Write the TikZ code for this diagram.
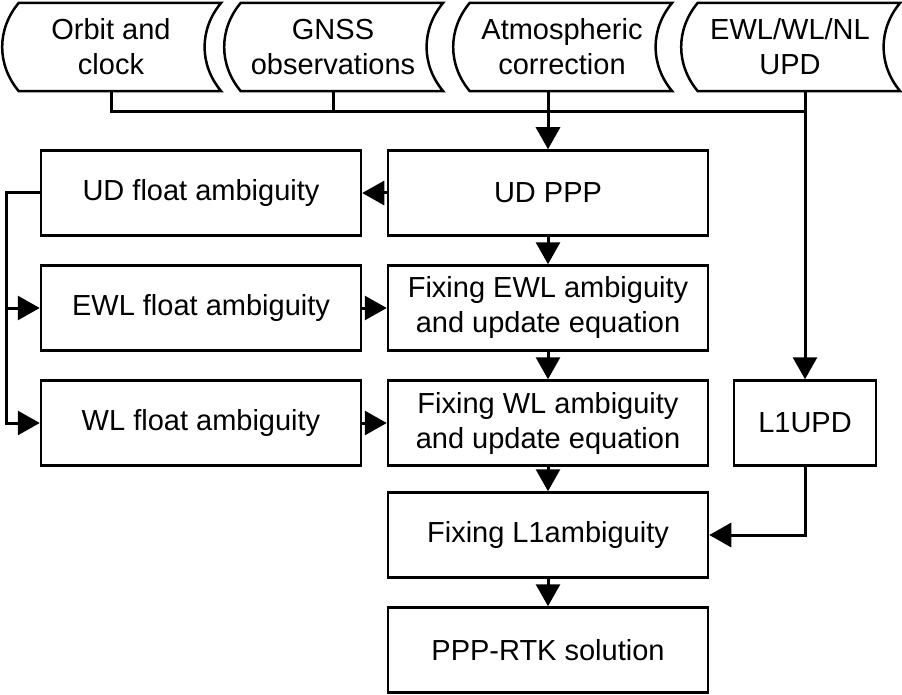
\documentclass[tikz,border=0pt]{standalone}
\usepackage{fontspec}
\setmainfont{Liberation Sans}
\usetikzlibrary{arrows.meta}

\begin{document}
\begin{tikzpicture}[x=1pt,y=-1pt,
    font=\fontsize{29}{35}\selectfont,
    box/.style={draw,line width=2.5pt,minimum width=320pt,minimum height=85pt,align=center,inner sep=0pt},
    src/.style={minimum width=202pt,minimum height=88pt,align=center,inner sep=0pt},
    line/.style={line width=3pt},
    arr/.style={line width=3pt,-{Triangle[length=22pt,width=24pt]}}]
  \useasboundingbox (0,0) rectangle (902,695);
  % data sources
  \node[src] (orbit) at (111,47) {Orbit and\\clock};
  \node[src] (gnss) at (333,47) {GNSS\\observations};
  \node[src] (atmos) at (562,47) {Atmospheric\\correction};
  \node[src] (upd) at (790,47) {EWL/WL/NL\\UPD};
  \foreach \n in {orbit,gnss,atmos,upd}
    \draw[line width=2.5pt] ([xshift=9pt]\n.north west) to[bend right=40] ([xshift=9pt]\n.south west)
      -- ([xshift=9pt]\n.south east) to[bend left=40] ([xshift=9pt]\n.north east) -- cycle;
  % processing chain
  \node[box] (udppp) at (548,193) {UD PPP};
  \node[box] (fixewl) at (548,308) {Fixing EWL ambiguity\\and update equation};
  \node[box] (fixwl) at (548,423) {Fixing WL ambiguity\\and update equation};
  \node[box] (fixl1) at (548,535) {Fixing L1ambiguity};
  \node[box] (rtk) at (548,650) {PPP-RTK solution};
  \node[box] (udfloat) at (201,193) {UD float ambiguity};
  \node[box] (ewlfloat) at (201,308) {EWL float ambiguity};
  \node[box] (wlfloat) at (201,423) {WL float ambiguity};
  \node[box,minimum width=142pt] (l1upd) at (805,423) {L1UPD};
  % connections
  \coordinate (bus) at (0,112);
  \coordinate (lbus) at (6,0);
  \draw[line] (orbit.south) |- (l1upd |- bus);
  \draw[line] (gnss.south) -- (gnss.south |- bus);
  \draw[arr] (udppp |- atmos.south) -- (udppp.north);
  \draw[arr] (l1upd |- upd.south) -- (l1upd.north);
  \draw[arr] (udppp) -- (udfloat);
  \draw[arr] (udfloat.west) -- (lbus |- udfloat) |- (wlfloat.west);
  \draw[arr] (lbus |- ewlfloat) -- (ewlfloat.west);
  \draw[arr] (ewlfloat) -- (fixewl);
  \draw[arr] (wlfloat) -- (fixwl);
  \draw[arr] (udppp) -- (fixewl);
  \draw[arr] (fixewl) -- (fixwl);
  \draw[arr] (fixwl) -- (fixl1);
  \draw[arr] (fixl1) -- (rtk);
  \draw[arr] (l1upd) |- (fixl1);
\end{tikzpicture}
\end{document}
